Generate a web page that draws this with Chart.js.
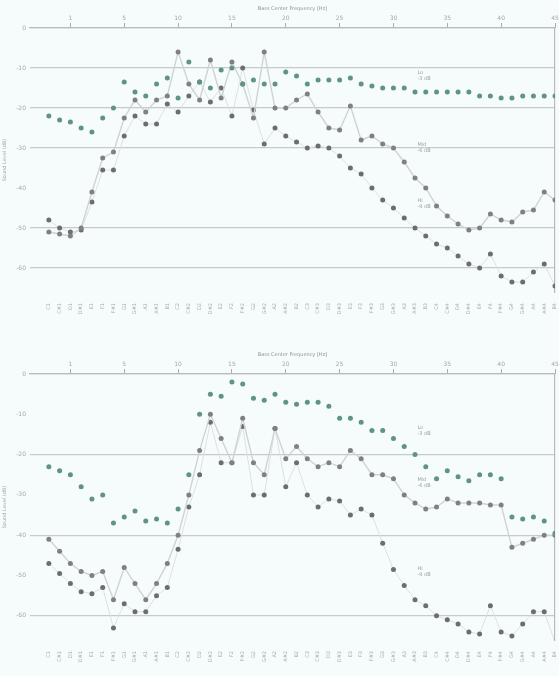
<!DOCTYPE html>
<html>
<head>
<meta charset="utf-8">
<script src="https://cdn.jsdelivr.net/npm/chart.js@4.4.1/dist/chart.umd.min.js"></script>
<style>
  body { margin: 0; background: #f6fbfb; }
  .box { width: 559px; height: 338px; }
</style>
</head>
<body>
<div class="box"><canvas id="topChart" width="559" height="338"></canvas></div>
<div class="box"><canvas id="bottomChart" width="559" height="338"></canvas></div>
<script>
// categories along the bottom (one per measured point)
const categories = [
  'C1','C#1','D1','D#1','E1','F1','F#1','G1','G#1','A1','A#1','B1',
  'C2','C#2','D2','D#2','E2','F2','F#2','G2','G#2','A2','A#2','B2',
  'C3','C#3','D3','D#3','E3','F3','F#3','G3','G#3','A3','A#3','B3',
  'C4','C#4','D4','D#4','E4','F4','F#4','G4','G#4','A4','A#4','B4'
];
// top axis: frequency labels every 5th point
const topTickIdx = [2, 7, 12, 17, 22, 27, 32, 37, 42, 47];
const topLabels = ['1', '5', '10', '15', '20', '25', '30', '35', '40', '45'];
const yTicks = [0, -10, -20, -30, -40, -50, -60];

// upper panel (dB)
const topUpper = [-22, -23, -23.5, -25, -26, -22.5, -20, -13.5, -16, -17, -14, -12.5,
  -17.5, -8.5, -13.5, -15, -10.5, -10, -14, -13, -14, -14, -11, -12,
  -14, -13, -13, -13, -12.5, -14, -14.5, -15, -15, -15, -16, -16,
  -16, -16, -16, -16, -17, -17, -17.5, -17.5, -17, -17, -17, -17];
const topMid = [-51, -51.5, -52, -50, -41, -32.5, -31, -22.5, -18, -21, -18, -17,
  -6, -14, -18, -8, -17.5, -8.5, -14, -22.5, -6, -20, -20, -18,
  -16.5, -21, -25, -25.5, -19.5, -28, -27, -29, -30, -33.5, -37.5, -40,
  -44.5, -47, -49, -50.5, -50, -46.5, -48, -48.5, -46, -45.5, -41, -43];
const topLower = [-48, -50, -51, -50.5, -43.5, -35.5, -35.5, -27, -22, -24, -24, -19,
  -21, -17, -13.5, -18.5, -15, -22, -10, -20.5, -29, -25, -27, -28.5,
  -30, -29.5, -30, -32, -35, -36.5, -40, -43, -45, -47.5, -50, -52,
  -54, -55, -57, -59, -60, -56.5, -62, -63.5, -63.5, -61, -59, -64.5];

// lower panel (dB)
const botUpper = [-23, -24, -25, -28, -31, -30, -37, -35.5, -34, -36.5, -36, -37,
  -33.5, -25, -10, -5, -5.5, -2, -2.5, -6, -6.5, -5, -7, -7.5,
  -7, -7, -8, -11, -11, -12, -14, -14, -16, -18, -20, -23,
  -26, -24, -25.5, -26.5, -25, -25, -26, -35.5, -36, -35.5, -36.5, -39.5];
const botMid = [-41, -44, -47, -49, -50, -49, -56, -48, -52, -56, -52, -47,
  -40, -30, -19, -10, -16, -22, -11, -22, -25, -13.5, -21, -18,
  -21, -23, -22, -23, -19, -21, -25, -25, -26, -30, -32, -33.5,
  -33, -31, -32, -32, -32, -32.5, -32.5, -43, -42, -41, -40, -40];
const botLower = [-47, -49.5, -52, -54, -54.5, -53, -63, -57, -59, -59, -55, -53,
  -43.5, -33, -25, -12, -22, -22, -13, -30, -30, -13.5, -28, -22,
  -30, -33, -31, -31.5, -35, -33.5, -35, -42, -48.5, -52.5, -56, -57.5,
  -60, -61, -62, -64, -64.5, -57.5, -64, -65, -62, -59, -59, -66.5];

// small inline labels next to the curves
const noteX = 34.5;
const topNoteY = [-12, -30, -44];
const botNoteY = [-14, -27, -49];
const noteText = [['Lo', '-3 dB'], ['Mid', '-6 dB'], ['Hi', '-9 dB']];

const toPts = arr => arr.map((v, i) => ({ x: i, y: v }));

const notesPlugin = {
  id: 'notes',
  afterDatasetsDraw(chart, args, opts) {
    const ctx = chart.ctx;
    const xs = chart.scales.x, ys = chart.scales.y;
    ctx.save();
    ctx.fillStyle = '#9aa3a3';
    ctx.font = '5px "DejaVu Sans"';
    ctx.textBaseline = 'middle';
    opts.ys.forEach((v, k) => {
      const px = xs.getPixelForValue(noteX), py = ys.getPixelForValue(v);
      ctx.fillText(noteText[k][0], px - 3, py - 3);
      ctx.fillText(noteText[k][1], px - 3, py + 3);
    });
    ctx.restore();
  }
};

// topH: height of the top axis band, plotBottom: bottom of plot area (canvas px)
function makeChart(id, sets, notes, topH, plotBottom, hiddenGrid) {
  return new Chart(document.getElementById(id), {
    type: 'line',
    data: {
      datasets: [
        { data: toPts(sets[0]), showLine: false, pointRadius: 2.5, borderWidth: 0,
          pointBackgroundColor: '#5f9484', pointBorderWidth: 0 },
        { data: toPts(sets[1]), borderColor: '#cfd3d3', borderWidth: 1.4, tension: 0,
          pointRadius: 2.5, pointBackgroundColor: '#808080', pointBorderWidth: 0 },
        { data: toPts(sets[2]), borderColor: '#dde0e0', borderWidth: 1, tension: 0,
          pointRadius: 2.5, pointBackgroundColor: '#6b6e6e', pointBorderWidth: 0 }
      ]
    },
    options: {
      responsive: false,
      animation: false,
      layout: { padding: 0 },
      plugins: {
        legend: { display: false },
        tooltip: { enabled: false },
        notes: { ys: notes }
      },
      scales: {
        x: {
          type: 'linear', min: -1.75, max: 47,
          afterBuildTicks: s => { s.ticks = categories.map((c, i) => ({ value: i })); },
          afterFit: s => { s.height = 338 - plotBottom; s.paddingLeft = 0; s.paddingRight = 0; },
          ticks: { autoSkip: false, maxRotation: 90, minRotation: 90, padding: 3,
            font: { size: 5, family: 'DejaVu Sans' }, color: '#a3abab',
            callback: v => categories[v] },
          grid: { display: false },
          border: { display: false }
        },
        x2: {
          type: 'linear', position: 'top', min: -1.75, max: 47,
          afterBuildTicks: s => { s.ticks = topTickIdx.map(v => ({ value: v })); },
          afterFit: s => { s.height = topH; s.paddingLeft = 0; s.paddingRight = 0; },
          title: { display: true, text: 'Bass Center Frequency [Hz]', font: { size: 5, family: 'DejaVu Sans' },
            color: '#8f9696', padding: { top: topH - 22, bottom: 1 } },
          ticks: { autoSkip: false, maxRotation: 0, padding: 1,
            font: { size: 6, family: 'DejaVu Sans' }, color: '#a3aaaa',
            callback: v => topLabels[topTickIdx.indexOf(v)] },
          grid: { drawOnChartArea: false, tickLength: 5, color: '#a8adad' },
          border: { display: true, color: '#b8bcbc', width: 1.2 }
        },
        y: {
          min: -66, max: 0,
          afterBuildTicks: s => { s.ticks = yTicks.map(v => ({ value: v })); },
          afterFit: s => { s.width = 30; },
          title: { display: true, text: 'Sound Level (dB)', font: { size: 5, family: 'DejaVu Sans' },
            color: '#a3aaaa', padding: { top: 2, bottom: 0 } },
          ticks: { padding: 4, font: { size: 6, family: 'DejaVu Sans' }, color: '#a3aaaa' },
          grid: {
            drawTicks: false, lineWidth: 1.2,
            color: c => hiddenGrid.includes(c.tick.value) ? 'rgba(0,0,0,0)' : '#c6caca'
          },
          border: { display: false }
        },
        yr: {
          position: 'right', min: -66, max: 0,
          afterFit: s => { s.width = 2; },
          ticks: { display: false },
          grid: { drawOnChartArea: false, drawTicks: false },
          border: { display: true, color: '#b8bcbc', width: 1.2 }
        }
      }
    },
    plugins: [notesPlugin]
  });
}

let chart1 = makeChart('topChart', [topUpper, topMid, topLower], topNoteY, 28, 292, [-40]);
let chart2 = makeChart('bottomChart', [botUpper, botMid, botLower], botNoteY, 36, 302, [-10, -30, -50]);
</script>
</body>
</html>
